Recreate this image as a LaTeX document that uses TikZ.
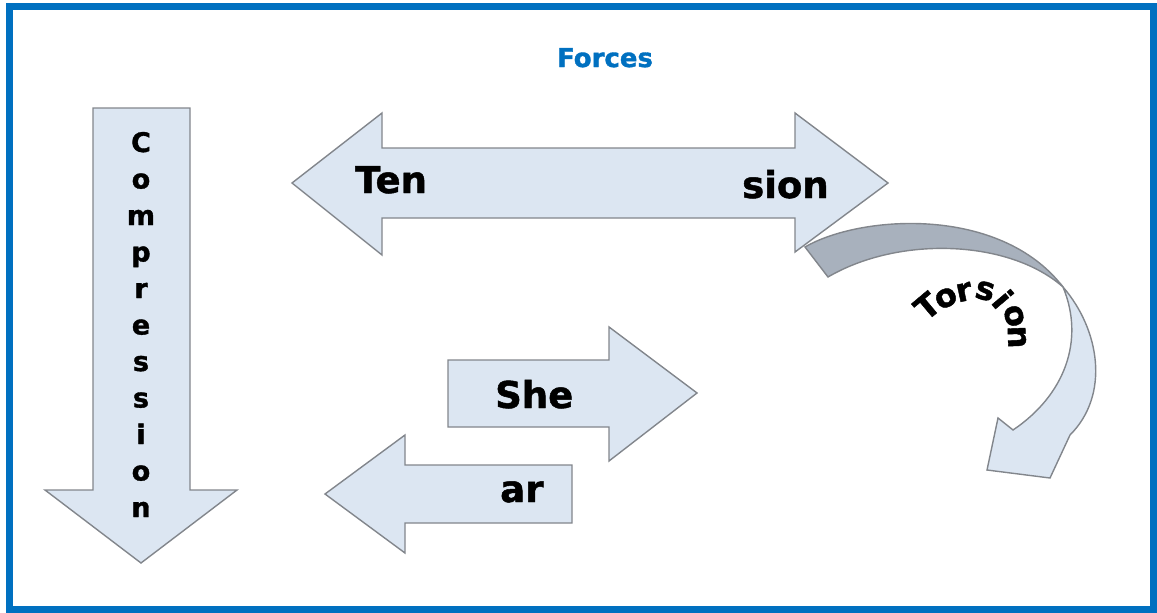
\documentclass[tikz,border=0pt]{standalone}
\usepackage{fontspec}
\setmainfont{DejaVu Sans}
\newfontfamily\heavyfont{DejaVu Sans Bold}[FakeBold=1.3]
\definecolor{frameBlue}{RGB}{0,112,192}
\definecolor{arrowFill}{RGB}{220,230,242}
\definecolor{arrowLine}{RGB}{130,134,140}
\definecolor{twistGray}{RGB}{168,177,189}

\begin{document}
\begin{tikzpicture}
[x=1pt,y=-1pt,
  arrowDecorate/.style={fill=arrowFill,draw=arrowLine,line width=1.4pt,line join=miter},
  twistDecorate/.style={fill=twistGray,draw=arrowLine,line width=1.4pt},
  labelDecorate/.style={font=\heavyfont\fontsize{37}{39}\selectfont,inner sep=0pt},
  letterDecorate/.style={font=\heavyfont\fontsize{27}{29}\selectfont,inner sep=0pt}]
\useasboundingbox (0,0) rectangle (1157,613);
%% frame and title
\draw[frameBlue,line width=7pt] (9,6) rectangle (1153,609);
\node (title) at (605,67) [anchor=base,inner sep=0pt,text=frameBlue,
  font=\heavyfont\fontsize{26}{28}\selectfont] {Forces};
%% compression
\draw[arrowDecorate] (93,108) -- (190,108) -- (190,490) -- (237,490)
  -- (141,563) -- (45,490) -- (93,490) -- cycle;
\foreach \letter [count=\i from 0] in {C,o,m,p,r,e,s,s,i,o,n}
{
  \node (cmp\i) at (141,152+36.5*\i) [letterDecorate,anchor=base] {\letter};
}
%% torsion, drawn under the tension head
\draw[twistDecorate] (805,247) .. controls (860,215) and (1000,205) .. (1063,287)
  .. controls (1010,240) and (900,235) .. (828,277) -- cycle;
\draw[arrowDecorate] (1063,287) .. controls (1100,330) and (1110,395) .. (1070,435)
  -- (1050,478) -- (987,470) -- (998,418) -- (1013,430)
  .. controls (1065,395) and (1085,340) .. (1063,287) -- cycle;
\foreach \letter/\x/\y/\rot [count=\i] in {
  T/927/306/40, o/946/298/28, r/964/292/12, s/985/291/-14,
  i/1003/299/-50, o/1014/316/-74, n/1017/337/-88}
{
  \node (tor\i) at (\x,\y) [inner sep=0pt,font=\heavyfont\fontsize{32}{32}\selectfont,
    rotate=\rot] {\letter};
}
%% tension
\draw[arrowDecorate] (292,183) -- (382,113) -- (382,148) -- (795,148) -- (795,113)
  -- (888,183) -- (795,252) -- (795,218) -- (382,218) -- (382,255) -- cycle;
\node (ten) at (355,193) [labelDecorate,anchor=base west] {Ten};
\node (sion) at (742,198) [labelDecorate,anchor=base west] {sion};
%% shear
\draw[arrowDecorate] (448,360) -- (609,360) -- (609,327) -- (697,393) -- (609,461)
  -- (609,427) -- (448,427) -- cycle;
\draw[arrowDecorate] (572,465) -- (405,465) -- (405,435) -- (325,494) -- (405,553)
  -- (405,523) -- (572,523) -- cycle;
\node (she) at (495,408) [labelDecorate,anchor=base west] {She};
\node (ar) at (500,502) [labelDecorate,anchor=base west] {ar};
\end{tikzpicture}
\end{document}
